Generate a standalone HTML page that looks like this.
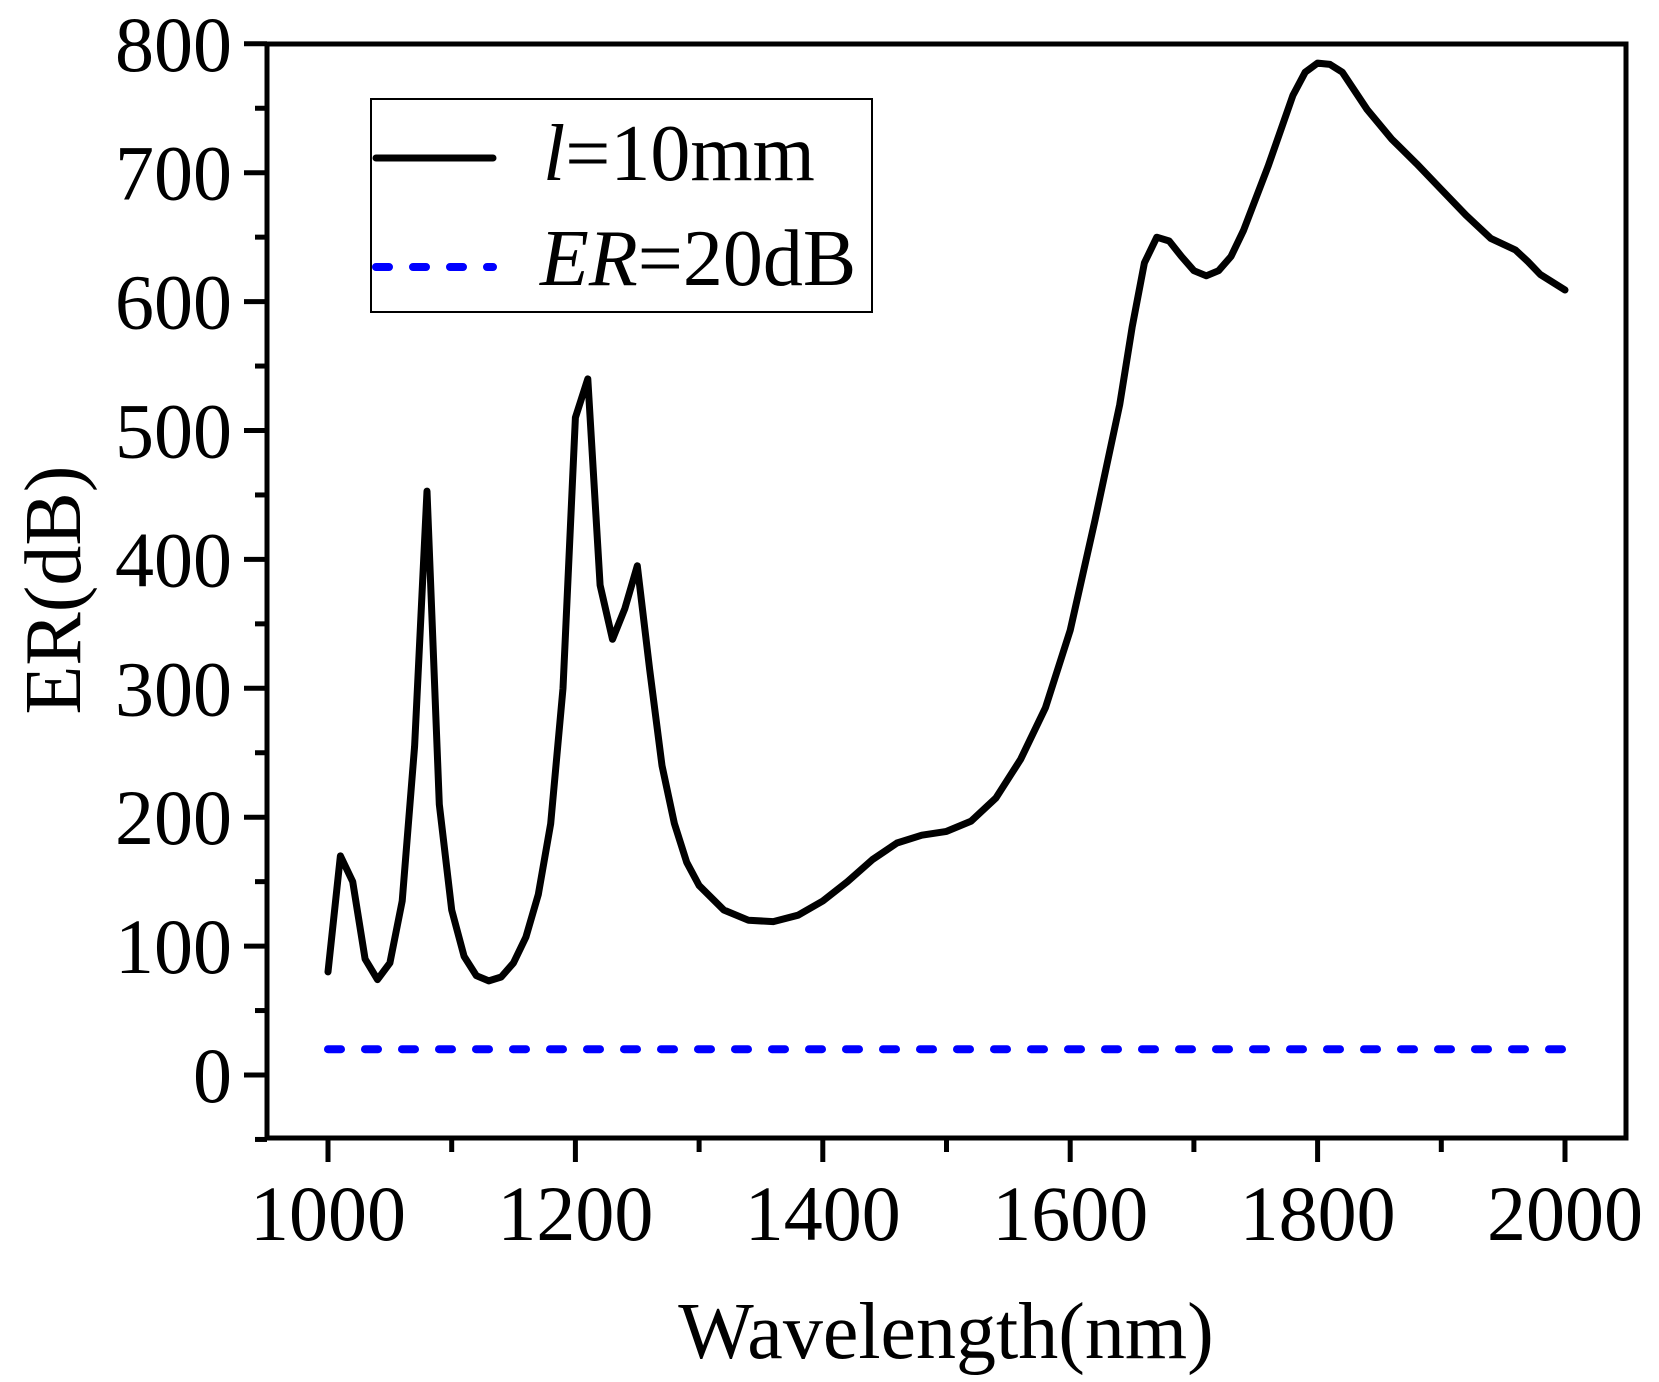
<!DOCTYPE html>
<html><head><meta charset="utf-8"><style>
html,body{margin:0;padding:0;background:#fff;}
svg{display:block;font-family:"Liberation Serif",serif;}
</style></head><body>
<svg id="chart" width="1659" height="1382" viewBox="0 0 1659 1382" xmlns="http://www.w3.org/2000/svg">
<g id="g"></g>
</svg>
<script>
const wavelengths=[1000,1010,1020,1030,1040,1050,1060,1070,1080,1090,1100,1110,1120,1130,1140,1150,1160,1170,1180,1190,1200,1210,1220,1230,1240,1250,1260,1270,1280,1290,1300,1320,1340,1360,1380,1400,1420,1440,1460,1480,1500,1520,1540,1560,1580,1600,1620,1640,1650,1660,1670,1680,1690,1700,1710,1720,1730,1740,1760,1780,1790,1800,1810,1820,1840,1860,1880,1900,1920,1940,1960,1970,1980,2000];
const erValues=[80,170,150,90,74,87,135,255,453,210,128,92,77,73,76,87,107,140,195,300,510,540,380,338,362,395,315,240,195,165,147,128,120,119,124,135,150,167,180,186,189,197,215,245,285,345,430,520,580,630,650,647,635,624,620,624,635,655,705,760,778,785,784,778,749,726,707,687,667,649,640,631,621,609];
const thresholdValue=20;
const xTicks=[1000,1200,1400,1600,1800,2000];
const yTicks=[0,100,200,300,400,500,600,700,800];

const NS="http://www.w3.org/2000/svg";
const g=document.getElementById('g');
const X=v=>328+(v-1000)*1.237;
const Y=v=>1075-v*1.289;
function mk(t,a){const e=document.createElementNS(NS,t);for(const k in a)e.setAttribute(k,a[k]);g.appendChild(e);return e;}

let f=mk('rect',{x:267,y:44,width:1359,height:1094,fill:'none',stroke:'#000','stroke-width':5});



for(let v=1000;v<=2000;v+=100){
  const maj=v%200===0;
  const t=mk('line',{x1:X(v),x2:X(v),y1:1138,y2:maj?1162:1152,stroke:'#000','stroke-width':5});
  
  
}
xTicks.forEach(v=>{
  const t=mk('text',{x:X(v),y:1240,'font-size':78,'text-anchor':'middle'});
  t.textContent=v;
  
  
});
for(let v=-50;v<=800;v+=50){
  const maj=v%100===0&&v>=0;
  const t=mk('line',{x1:maj?244:255,x2:267,y1:Y(v),y2:Y(v),stroke:'#000','stroke-width':5});
  
  
}
yTicks.forEach(v=>{
  const t=mk('text',{x:232,y:Y(v)+27,'font-size':78,'text-anchor':'end'});
  t.textContent=v;
  
  
});
let xt=mk('text',{x:946,y:1358,'font-size':80,'text-anchor':'middle'});
xt.textContent='Wavelength(nm)';


let yt=mk('text',{x:0,y:0,'font-size':80,'text-anchor':'middle',transform:'translate(80,590) rotate(-90)'});
yt.textContent='ER(dB)';



let th=mk('line',{x1:X(1000),x2:X(2000),y1:Y(thresholdValue),y2:Y(thresholdValue),stroke:'#0000ff','stroke-width':8,'stroke-dasharray':'13 24','stroke-linecap':'round'});



let d=wavelengths.map((w,i)=>(i?'L':'M')+X(w).toFixed(1)+' '+Y(erValues[i]).toFixed(1)).join(' ');
let s=mk('path',{d:d,fill:'none',stroke:'#000','stroke-width':7,'stroke-linejoin':'round','stroke-linecap':'round'});



let lb=mk('rect',{x:371,y:99,width:501,height:213,fill:'#fff',stroke:'#000','stroke-width':2});


let l1=mk('line',{x1:376,x2:493,y1:158,y2:158,stroke:'#000','stroke-width':7,'stroke-linecap':'round'});


let l2=mk('line',{x1:376,x2:493,y1:267,y2:267,stroke:'#0000ff','stroke-width':8,'stroke-dasharray':'13 24','stroke-linecap':'round'});


let t1=mk('text',{x:543,y:180,'font-size':80});
t1.innerHTML='<tspan font-style="italic">l</tspan>=10mm';


let t2=mk('text',{x:540,y:285,'font-size':80});
t2.innerHTML='<tspan font-style="italic">ER</tspan>=20dB';


</script>
</body></html>
